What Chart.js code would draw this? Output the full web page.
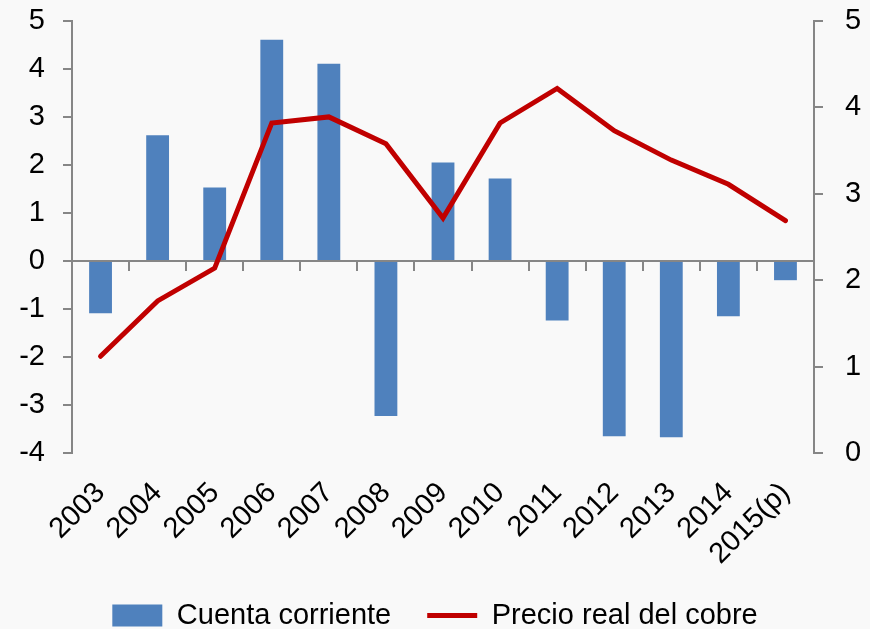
<!DOCTYPE html>
<html>
<head>
<meta charset="utf-8">
<script src="https://cdn.jsdelivr.net/npm/chart.js@4"></script>
<style>
  html, body { margin: 0; padding: 0; background: #f9f9f9; }
  #wrap { width: 870px; height: 629px; position: relative; }
</style>
</head>
<body>
<div id="wrap"><canvas id="chartCobre"></canvas></div>
<script>
const years = ['2003', '2004', '2005', '2006', '2007', '2008', '2009', '2010', '2011', '2012', '2013', '2014', '2015(p)'];
const cuentaCorriente = [-1.09, 2.62, 1.53, 4.61, 4.11, -3.23, 2.05, 1.72, -1.24, -3.65, -3.67, -1.15, -0.40];
const precioCobre = [1.12, 1.76, 2.14, 3.82, 3.89, 3.58, 2.72, 3.82, 4.22, 3.73, 3.39, 3.11, 2.69];
const leftTicks = [-4, 5];
const rightTicks = [0, 5];

const axisGray = '#868686';
const font = { family: '"Liberation Sans", Arial, sans-serif', size: 29 };

const ctx = document.getElementById('chartCobre');

new Chart(ctx, {
  data: {
    labels: years,
    datasets: [{
      type: 'bar',
      label: 'Cuenta corriente',
      data: cuentaCorriente,
      backgroundColor: '#4f81bd',
      borderWidth: 0,
      barPercentage: 0.4,
      categoryPercentage: 1,
      pointStyle: 'rect',
      xAxisID: 'x',
      yAxisID: 'y',
      order: 2
    }, {
      type: 'line',
      label: 'Precio real del cobre',
      data: precioCobre,
      borderColor: '#c00000',
      backgroundColor: '#c00000',
      borderWidth: 5,
      pointRadius: 0,
      pointStyle: 'line',
      tension: 0,
      borderCapStyle: 'round',
      xAxisID: 'x',
      yAxisID: 'y1',
      order: 1
    }]
  },
  options: {
    responsive: true,
    maintainAspectRatio: false,
    animation: false,
    layout: { padding: { top: 21, left: 0, right: 0, bottom: -11 } },
    plugins: {
      tooltip: { enabled: false },
      legend: {
        display: true,
        position: 'bottom',
        labels: {
          usePointStyle: true,
          pointStyleWidth: 50,
          boxHeight: 22,
          padding: 36,
          color: '#000',
          font: font,
          sort: (a, b) => a.datasetIndex - b.datasetIndex
        }
      }
    },
    scales: {
      x: {
        type: 'category',
        offset: true,
        grid: { display: false, offset: true },
        border: { display: false },
        ticks: { color: '#000', font: font, minRotation: 45, maxRotation: 45, autoSkip: false, padding: 15 },
        afterFit: (scale) => { scale.height = 112; }
      },
      x2: {
        type: 'category',
        position: { y: 0 },
        offset: true,
        grid: { display: true, offset: true, drawOnChartArea: false, drawTicks: true, tickLength: 9, color: axisGray, lineWidth: 2 },
        border: { display: true, color: axisGray, width: 2 },
        ticks: { display: false }
      },
      y: {
        position: 'left',
        min: leftTicks[0],
        max: leftTicks[1],
        ticks: { stepSize: 1, color: '#000', font: font, padding: 18 },
        grid: { display: true, drawOnChartArea: false, tickLength: 9, color: axisGray, lineWidth: 2 },
        border: { display: true, color: axisGray, width: 2 },
        afterFit: (scale) => { scale.width = 72; scale.paddingTop = 0; scale.paddingBottom = 0; }
      },
      y1: {
        position: 'right',
        min: rightTicks[0],
        max: rightTicks[1],
        ticks: { stepSize: 1, color: '#000', font: font, padding: 22 },
        grid: { display: true, drawOnChartArea: false, tickLength: 9, color: axisGray, lineWidth: 2 },
        border: { display: true, color: axisGray, width: 2 },
        afterFit: (scale) => { scale.width = 56; scale.paddingTop = 0; scale.paddingBottom = 0; }
      }
    }
  }
});
</script>
</body>
</html>
